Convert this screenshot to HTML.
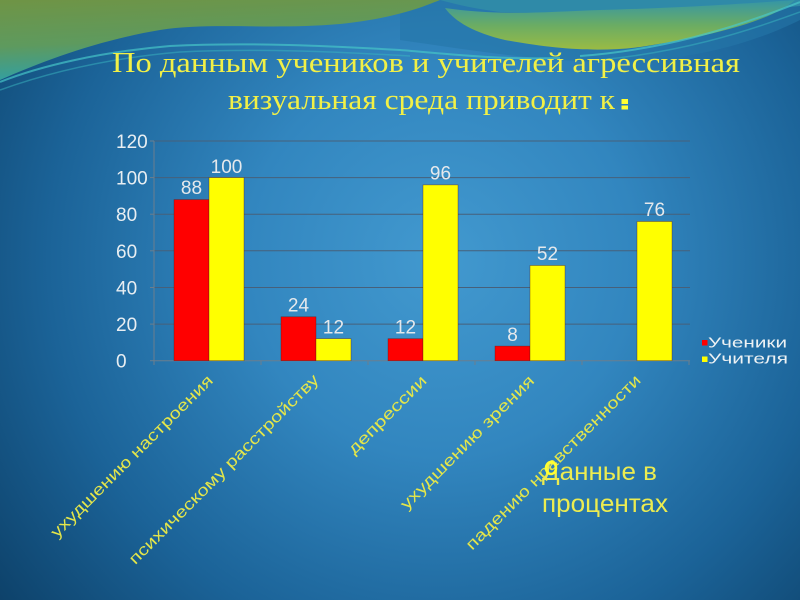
<!DOCTYPE html>
<html><head><meta charset="utf-8"><style>
html,body{margin:0;padding:0;background:#1d5f90;}
svg{display:block}
</style></head><body>
<svg width="800" height="600" viewBox="0 0 800 600" xmlns="http://www.w3.org/2000/svg">
<defs>
<radialGradient id="bg" cx="440" cy="260" r="560" gradientUnits="userSpaceOnUse">
<stop offset="0" stop-color="#4299cf"/>
<stop offset="0.35" stop-color="#3286bf"/>
<stop offset="0.7" stop-color="#1b6398"/>
<stop offset="1" stop-color="#0d4169"/>
</radialGradient>
<linearGradient id="gTL" x1="0" y1="0" x2="0.25" y2="1">
<stop offset="0" stop-color="#6f9445"/>
<stop offset="0.55" stop-color="#5e9a5e"/>
<stop offset="1" stop-color="#2ea0a8"/>
</linearGradient>
<linearGradient id="gTR" x1="0" y1="0" x2="0" y2="1">
<stop offset="0" stop-color="#3596a6"/>
<stop offset="0.5" stop-color="#6aac64"/>
<stop offset="1" stop-color="#9abb44"/>
</linearGradient>
</defs>
<rect width="800" height="600" fill="url(#bg)"/>
<!-- top decoration -->
<path d="M400,0 H800 V20 C760,40 700,60 620,62 C540,62 470,50 400,40 Z" fill="#2576a8" opacity="0.6"/>
<path d="M440,0 H800 V6 C760,10 720,12 680,12 C620,12 560,14 500,12 C470,8 455,4 440,0 Z" fill="#2f8aa8"/>
<path d="M445,8 C500,16 545,12 600,10 C680,8 740,4 795,0 C775,18 725,34 640,47 C600,52 560,50 505,40 C475,33 455,22 445,8 Z" fill="url(#gTR)"/>
<path d="M0,0 H440 C420,8 395,18 340,24 C270,30 210,22 160,30 C100,40 45,60 0,80 Z" fill="url(#gTL)"/>
<path d="M0,82 C40,66 100,52 170,46 C250,42 330,46 400,50 C450,54 500,60 560,58" stroke="#46c4c8" stroke-width="2" fill="none" opacity="0.7"/>
<path d="M0,90 C50,72 110,58 180,52 C260,48 340,52 410,56" stroke="#3ab6c0" stroke-width="1.5" fill="none" opacity="0.5"/>
<path d="M580,56 C660,50 730,30 800,2" stroke="#48c8c8" stroke-width="2" fill="none" opacity="0.7"/>
<path d="M600,60 C680,52 740,34 800,12" stroke="#3ab8c0" stroke-width="1.5" fill="none" opacity="0.5"/>

<!-- title -->
<text x="112" y="72" font-family="Liberation Serif, serif" font-size="28" fill="#f2f046" textLength="628" lengthAdjust="spacingAndGlyphs">По данным учеников и учителей агрессивная</text>
<text x="228" y="109" font-family="Liberation Serif, serif" font-size="28" fill="#f2f046" textLength="387" lengthAdjust="spacingAndGlyphs">визуальная среда приводит к</text>
<rect x="621.5" y="99" width="6.5" height="5" fill="#ffff30"/>
<rect x="621.5" y="105.5" width="6.5" height="4" fill="#ffff30"/>

<!-- gridlines -->
<g stroke="#47607a" stroke-width="1">
<line x1="154" y1="141" x2="690" y2="141"/>
<line x1="154" y1="177.6" x2="690" y2="177.6"/>
<line x1="154" y1="214.2" x2="690" y2="214.2"/>
<line x1="154" y1="250.8" x2="690" y2="250.8"/>
<line x1="154" y1="287.5" x2="690" y2="287.5"/>
<line x1="154" y1="324.1" x2="690" y2="324.1"/>
</g>
<!-- axes -->
<g stroke="#6b7e8e" stroke-width="1">
<line x1="154" y1="141" x2="154" y2="361"/>
<line x1="150" y1="141" x2="154" y2="141"/>
<line x1="150" y1="177.6" x2="154" y2="177.6"/>
<line x1="150" y1="214.2" x2="154" y2="214.2"/>
<line x1="150" y1="250.8" x2="154" y2="250.8"/>
<line x1="150" y1="287.5" x2="154" y2="287.5"/>
<line x1="150" y1="324.1" x2="154" y2="324.1"/>
<line x1="150" y1="360.7" x2="154" y2="360.7"/>
<line x1="154" y1="360.7" x2="690" y2="360.7"/>
<line x1="154" y1="361" x2="154" y2="365"/>
<line x1="261" y1="361" x2="261" y2="365"/>
<line x1="368" y1="361" x2="368" y2="365"/>
<line x1="475" y1="361" x2="475" y2="365"/>
<line x1="582" y1="361" x2="582" y2="365"/>
<line x1="689" y1="361" x2="689" y2="365"/>
</g>
<!-- y labels -->
<g font-family="Liberation Sans, sans-serif" font-size="19" fill="#e8eef2">
<text x="116" y="148">120</text>
<text x="116" y="184.6">100</text>
<text x="116" y="221.2">80</text>
<text x="116" y="257.8">60</text>
<text x="116" y="294.5">40</text>
<text x="116" y="331.1">20</text>
<text x="116" y="367.7">0</text>
</g>
<!-- bars -->
<g stroke="#5a1a10" stroke-width="0.6" stroke-opacity="0.6">
<rect x="174" y="199.6" width="35" height="161.1" fill="#ff0000"/>
<rect x="209" y="177.6" width="35" height="183.1" fill="#ffff00"/>
<rect x="281" y="316.8" width="35" height="43.9" fill="#ff0000"/>
<rect x="316" y="338.7" width="35" height="22" fill="#ffff00"/>
<rect x="388" y="338.7" width="35" height="22" fill="#ff0000"/>
<rect x="423" y="184.9" width="35" height="175.8" fill="#ffff00"/>
<rect x="495" y="346.1" width="35" height="14.6" fill="#ff0000"/>
<rect x="530" y="265.5" width="35" height="95.2" fill="#ffff00"/>
<rect x="637" y="221.5" width="35" height="139.2" fill="#ffff00"/>
</g>
<!-- value labels -->
<g font-family="Liberation Sans, sans-serif" font-size="19" fill="#e6e9ec" text-anchor="middle">
<text x="191.5" y="194">88</text>
<text x="226.5" y="173">100</text>
<text x="298.5" y="311.5">24</text>
<text x="333.5" y="333.5">12</text>
<text x="405.5" y="333.5">12</text>
<text x="440.5" y="179.5">96</text>
<text x="512.5" y="341">8</text>
<text x="547.5" y="260">52</text>
<text x="654.5" y="216">76</text>
</g>
<!-- legend -->
<rect x="702" y="340" width="5.5" height="5.5" fill="#ff0000"/>
<rect x="702" y="356.5" width="5.5" height="5.5" fill="#ffff00"/>
<g font-family="Liberation Sans, sans-serif" font-size="15" fill="#eef2f4">
<text x="708" y="347.7" textLength="79" lengthAdjust="spacingAndGlyphs">Ученики</text>
<text x="708" y="363.5" textLength="80" lengthAdjust="spacingAndGlyphs">Учителя</text>
</g>
<!-- category labels -->
<g font-family="Liberation Sans, sans-serif" font-size="16" fill="#e4e64a" text-anchor="middle">
<text transform="translate(135.5,460) rotate(-45)" textLength="222" lengthAdjust="spacingAndGlyphs">ухудшению настроения</text>
<text transform="translate(227.5,473) rotate(-45)" textLength="261" lengthAdjust="spacingAndGlyphs">психическому расстройству</text>
<text transform="translate(391,418.5) rotate(-45)" textLength="104" lengthAdjust="spacingAndGlyphs">депрессии</text>
<text transform="translate(471,446) rotate(-45)" textLength="182" lengthAdjust="spacingAndGlyphs">ухудшению зрения</text>
<text transform="translate(557,466) rotate(-45)" textLength="240" lengthAdjust="spacingAndGlyphs">падению нравственности</text>
</g>
<!-- note -->
<g font-family="Liberation Sans, sans-serif" font-size="25" fill="#ecec50">
<text x="542" y="480" textLength="115" lengthAdjust="spacingAndGlyphs">Данные в</text>
<text x="542" y="512" textLength="126" lengthAdjust="spacingAndGlyphs">процентах</text>
</g>
<ellipse cx="551" cy="468" rx="5" ry="6" fill="none" stroke="#ffff30" stroke-width="2.5"/>
</svg>
</body></html>
